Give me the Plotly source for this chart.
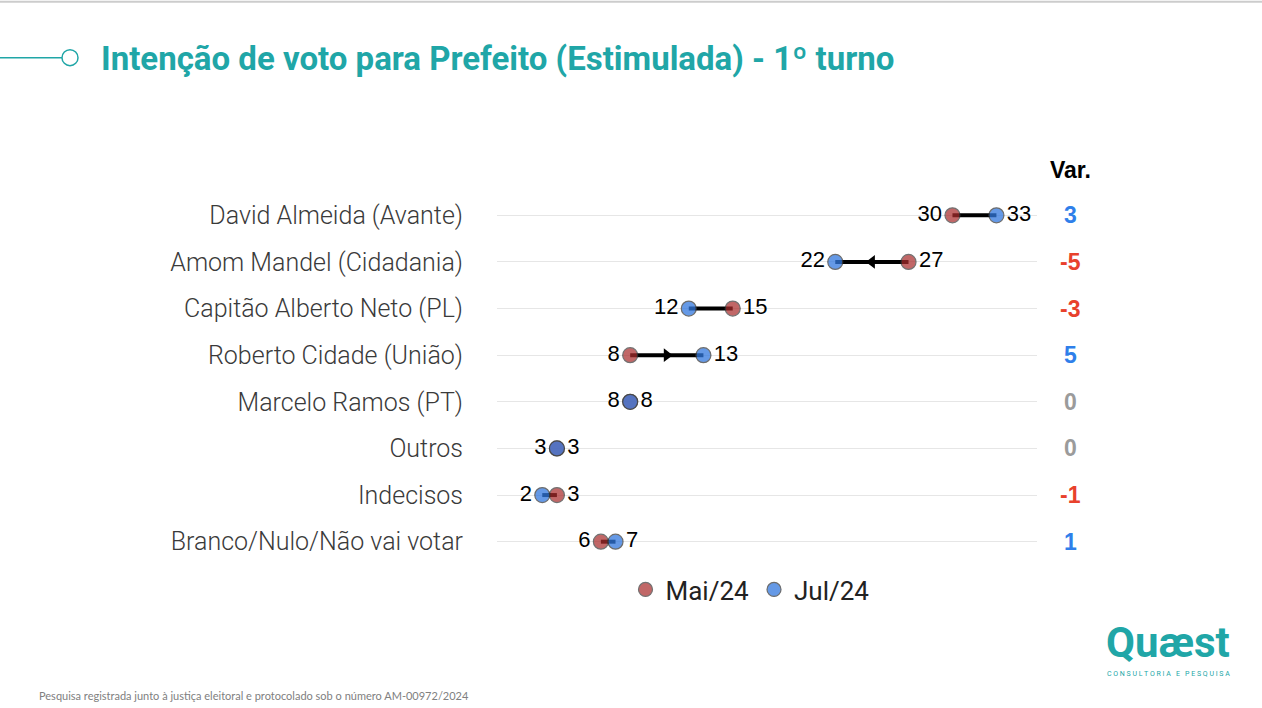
import plotly.graph_objects as go

# ---------------- data ----------------
categories = [
    "David Almeida (Avante)",
    "Amom Mandel (Cidadania)",
    "Capitão Alberto Neto (PL)",
    "Roberto Cidade (União)",
    "Marcelo Ramos (PT)",
    "Outros",
    "Indecisos",
    "Branco/Nulo/Não vai votar",
]
mai24 = [30, 27, 15, 8, 8, 3, 3, 6]
jul24 = [33, 22, 12, 13, 8, 3, 2, 7]
series_names = ["Mai/24", "Jul/24"]
title_text = "Intenção de voto para Prefeito (Estimulada) - 1º turno"
footer_text = "Pesquisa registrada junto à justiça eleitoral e protocolado sob o número AM-00972/2024"

# ---------------- layout geometry (pixels) ----------------
W, H = 1262, 708
PL, PR, PT, PB = 497, 1037, 191.6, 565.4


def px2x(p):
    return (p - PL) / (PR - PL)


def py2y(q):
    return (PB - q) / (PB - PT)


TEAL = "#20A6A7"
MAI_C = "rgb(170,45,45)"
JUL_C = "rgb(50,120,222)"

fig = go.Figure()

# connecting lines
lx, ly = [], []
for c, a, b in zip(categories, mai24, jul24):
    lx += [a, b, None]
    ly += [c, c, None]
fig.add_trace(go.Scatter(x=lx, y=ly, mode="lines", line=dict(color="black", width=4),
                         showlegend=False, hoverinfo="skip"))

# direction arrows at midpoints (only for larger changes)
ax_, ay_, asym = [], [], []
for c, a, b in zip(categories, mai24, jul24):
    if abs(b - a) >= 5:
        ax_.append((a + b) / 2)
        ay_.append(c)
        asym.append("triangle-right" if b > a else "triangle-left")
fig.add_trace(go.Scatter(x=ax_, y=ay_, mode="markers",
                         marker=dict(symbol=asym, size=12, color="black"),
                         showlegend=False, hoverinfo="skip"))

# value label positions
mai_pos, jul_pos = [], []
for a, b in zip(mai24, jul24):
    if a <= b:
        mai_pos.append("middle left")
        jul_pos.append("middle right")
    else:
        mai_pos.append("middle right")
        jul_pos.append("middle left")

marker_line = dict(color="rgba(60,60,60,1)", width=1.2)
val_font = dict(family="Liberation Sans, Arial", size=22, color="black")
fig.add_trace(go.Scatter(
    x=mai24, y=categories, mode="markers+text", name=series_names[0],
    text=[str(v) for v in mai24], textposition=mai_pos, textfont=val_font,
    marker=dict(size=15, color=MAI_C, opacity=0.72, line=marker_line),
    showlegend=False))
fig.add_trace(go.Scatter(
    x=jul24, y=categories, mode="markers+text", name=series_names[1],
    text=[str(v) for v in jul24], textposition=jul_pos, textfont=val_font,
    marker=dict(size=15, color=JUL_C, opacity=0.75, line=marker_line),
    showlegend=False))

# legend entries
fig.add_trace(go.Scatter(x=[None], y=[None], mode="markers", name=series_names[0],
                         marker=dict(size=14, color=MAI_C, opacity=0.72, line=marker_line)))
fig.add_trace(go.Scatter(x=[None], y=[None], mode="markers", name=series_names[1],
                         marker=dict(size=14, color=JUL_C, opacity=0.75, line=marker_line)))

# variation column
annotations = []
annotations.append(dict(xref="paper", yref="paper", x=px2x(1070), y=py2y(170),
                        text="<b>Var.</b>", showarrow=False,
                        font=dict(family="Liberation Sans, Arial", size=23, color="black"),
                        xanchor="center", yanchor="middle"))
for c, a, b in zip(categories, mai24, jul24):
    d = b - a
    col = "#2F7FEA" if d > 0 else ("#E8412C" if d < 0 else "#9B9B9B")
    annotations.append(dict(xref="paper", yref="y", x=px2x(1070), y=c,
                            text="<b>%d</b>" % d, showarrow=False,
                            font=dict(family="Liberation Sans, Arial", size=23, color=col),
                            xanchor="center", yanchor="middle"))

# footer
annotations.append(dict(xref="paper", yref="paper", x=px2x(37), y=py2y(696),
                        text=footer_text, showarrow=False, xanchor="left", yanchor="middle",
                        font=dict(family="Lato", size=11, color="#808080")))
# logo
annotations.append(dict(xref="paper", yref="paper", x=px2x(1168), y=py2y(669),
                        text="<b>Quæst</b>", showarrow=False, xanchor="center", yanchor="bottom",
                        font=dict(family="Roboto", size=42, color=TEAL), borderpad=0))
annotations.append(dict(xref="paper", yref="paper", x=px2x(1168), y=py2y(670),
                        text="C O N S U L T O R I A   E   P E S Q U I S A", showarrow=False,
                        xanchor="center", yanchor="top",
                        font=dict(family="Roboto", size=7, color=TEAL), borderpad=0))

shapes = [
    dict(type="line", xref="paper", yref="paper", x0=px2x(0), x1=px2x(62),
         y0=py2y(57), y1=py2y(57), line=dict(color=TEAL, width=1.5)),
    dict(type="circle", xref="paper", yref="paper", x0=px2x(62), x1=px2x(78),
         y0=py2y(65), y1=py2y(49), line=dict(color=TEAL, width=1.5), fillcolor="white"),
    dict(type="line", xref="paper", yref="paper", x0=px2x(0), x1=px2x(W),
         y0=py2y(1), y1=py2y(1), line=dict(color="#CCCCCC", width=2)),
]

fig.update_layout(
    width=W, height=H,
    margin=dict(l=PL, r=W - PR, t=PT, b=H - PB, pad=0),
    paper_bgcolor="white", plot_bgcolor="white",
    title=dict(text="<b>" + title_text + "</b>", xref="container", yref="container",
               x=101 / W, y=1 - 58 / H, xanchor="left", yanchor="middle",
               font=dict(family="Roboto", size=33, color=TEAL)),
    xaxis=dict(range=[-1.09, 35.77], showgrid=False, zeroline=False, showticklabels=False,
               ticks="", showline=False, fixedrange=True),
    yaxis=dict(type="category", categoryorder="array", categoryarray=categories,
               range=[len(categories) - 0.5, -0.5], showgrid=True, gridcolor="#E6E6E6",
               gridwidth=1, zeroline=False, showline=False, ticks="",
               ticklabelstandoff=33,
               tickfont=dict(family="Roboto", weight=300, size=25, color="#3A3A3A")),
    legend=dict(orientation="h", x=px2x(750), y=py2y(590), xanchor="center", yanchor="middle",
                font=dict(family="Roboto", size=26, color="#222222"),
                itemwidth=30, bgcolor="rgba(0,0,0,0)"),
    annotations=annotations,
    shapes=shapes,
    showlegend=True,
)

fig.write_html("out.html", config={"displayModeBar": False},
               post_script="document.body.style.margin='0';document.body.style.overflow='hidden';")
